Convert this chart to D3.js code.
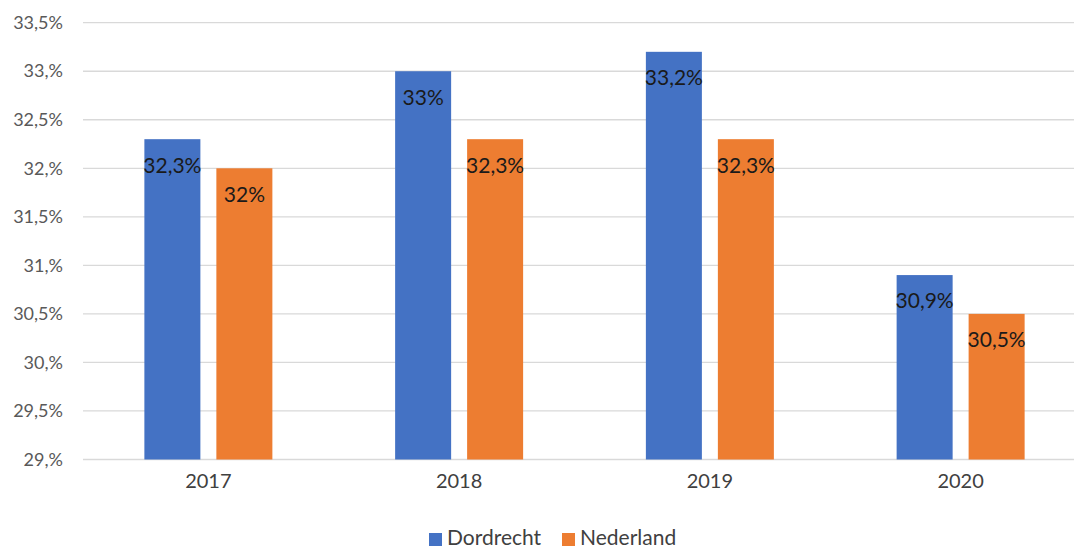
<!DOCTYPE html>
<html><head><meta charset="utf-8">
<script src="https://cdn.jsdelivr.net/npm/d3@7"></script>
<style>html,body{margin:0;padding:0;background:#fff;}svg{display:block;}</style>
</head><body>
<svg id="c" width="1074" height="549"></svg>
<script>
const categories = ["2017", "2018", "2019", "2020"];
const seriesNames = ["Dordrecht", "Nederland"];
const dordrecht = [32.3, 33.0, 33.2, 30.9];
const nederland = [32.0, 32.3, 32.3, 30.5];
const dordrechtLabels = ["32,3%", "33%", "33,2%", "30,9%"];
const nederlandLabels = ["32%", "32,3%", "32,3%", "30,5%"];
const tickValues = [29, 29.5, 30, 30.5, 31, 31.5, 32, 32.5, 33, 33.5];
const tickLabels = ["29,%", "29,5%", "30,%", "30,5%", "31,%", "31,5%", "32,%", "32,5%", "33,%", "33,5%"];
const colors = ["#4472C4", "#ED7D31"];

const font = "Lato, 'Open Sans', sans-serif";
const svg = d3.select("#c");
const y = d3.scaleLinear().domain([29, 33.5]).range([459.5, 22.7]);
const x0 = d3.scaleBand().domain(categories).range([83, 1086]);
const x1 = d3.scaleBand().domain(seriesNames).range([-64, 64]).paddingInner(0.222);

// gridlines
svg.append("g").selectAll("line").data(tickValues).join("line")
  .attr("x1", 83).attr("x2", 1086)
  .attr("y1", d => y(d)).attr("y2", d => y(d))
  .attr("stroke", "#d9d9d9").attr("stroke-width", 1.3);

// y axis labels
const yAxis = d3.axisLeft(y).tickValues(tickValues).tickSize(0).tickPadding(0)
  .tickFormat((d, i) => tickLabels[i]);
const ya = svg.append("g").attr("transform", "translate(63,0)").call(yAxis);
ya.select(".domain").remove();
ya.selectAll("text").attr("font-family", font).attr("font-size", 18).attr("fill", "#595959");

// x axis labels
const xAxis = d3.axisBottom(x0).tickSize(0).tickPadding(0);
const xa = svg.append("g").attr("transform", "translate(0,474)").call(xAxis);
xa.select(".domain").remove();
xa.selectAll("text").attr("font-family", font).attr("font-size", 20).attr("fill", "#404040");

const series = [dordrecht, nederland];
const labels = [dordrechtLabels, nederlandLabels];
series.forEach((vals, si) => {
  const g = svg.append("g");
  const name = seriesNames[si];
  g.selectAll("rect").data(categories).join("rect")
    .attr("x", c => x0(c) + x0.bandwidth() / 2 + x1(name))
    .attr("width", x1.bandwidth())
    .attr("y", (c, i) => y(vals[i]))
    .attr("height", (c, i) => y(29) - y(vals[i]))
    .attr("fill", colors[si]);
  g.selectAll("text").data(categories).join("text")
    .attr("x", c => x0(c) + x0.bandwidth() / 2 + x1(name) + x1.bandwidth() / 2)
    .attr("y", (c, i) => y(vals[i]) + 26)
    .attr("dy", "0.35em")
    .attr("text-anchor", "middle")
    .attr("font-family", font).attr("font-size", 21).attr("fill", "#1a1a1a")
    .text((c, i) => labels[si][i]);
});

// legend
const legend = svg.append("g");
const legendX = [429, 562];
seriesNames.forEach((n, i) => {
  legend.append("rect").attr("x", legendX[i]).attr("y", 533).attr("width", 13).attr("height", 13).attr("fill", colors[i]);
  legend.append("text").attr("x", legendX[i] + 18).attr("y", 538).attr("dy", "0.35em")
    .attr("font-family", font).attr("font-size", 21).attr("fill", "#404040").text(n);
});
</script>
</body></html>
